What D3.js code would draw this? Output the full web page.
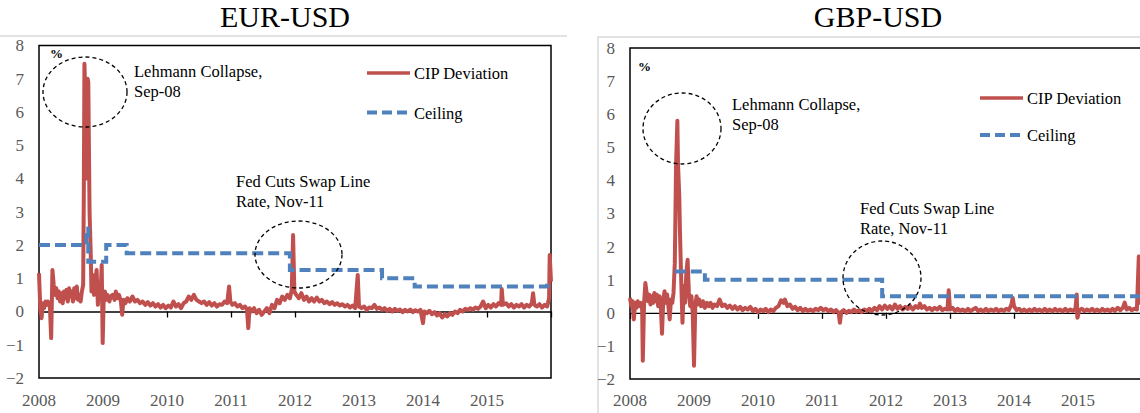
<!DOCTYPE html>
<html>
<head>
<meta charset="utf-8">
<script src="https://cdn.jsdelivr.net/npm/d3@7"></script>
<style>
  body { margin: 0; background: #fff; }
  svg text { font-family: "Liberation Serif", "Times New Roman", Times, serif; }
</style>
</head>
<body>
<svg id="chart" width="1140" height="413"></svg>
<script>
// Tick labels
const yearTicks = [2008, 2009, 2010, 2011, 2012, 2013, 2014, 2015];
const yTicks = [-2, -1, 0, 1, 2, 3, 4, 5, 6, 7, 8];

// EUR-USD CIP deviation, [year, %]
const eurCip = [
  [2008.00, 1.15], [2008.02, 0.1], [2008.04, -0.2], [2008.06, 0.25], [2008.08, 0.1], [2008.10, 0.3],
  [2008.12, 0.2], [2008.14, 0.3], [2008.17, 0.15], [2008.19, -0.8], [2008.20, 0.2], [2008.21, 1.25],
  [2008.23, 0.8], [2008.25, 0.5], [2008.27, 0.7], [2008.29, 0.4], [2008.31, 0.6], [2008.33, 0.3],
  [2008.35, 0.55], [2008.37, 0.25], [2008.39, 0.6], [2008.41, 0.4], [2008.43, 0.65], [2008.45, 0.3],
  [2008.47, 0.7], [2008.49, 0.45], [2008.51, 0.6], [2008.53, 0.3], [2008.55, 0.7], [2008.57, 0.4],
  [2008.59, 0.75], [2008.61, 0.35], [2008.63, 0.5], [2008.65, 0.3], [2008.67, 0.6], [2008.69, 0.8],
  [2008.70, 3.5], [2008.71, 7.45], [2008.73, 6.0], [2008.75, 4.0], [2008.76, 7.0], [2008.77, 6.9],
  [2008.79, 3.0], [2008.81, 1.6], [2008.82, 0.6], [2008.84, 1.1], [2008.86, 0.5], [2008.88, 0.9],
  [2008.90, 1.25], [2008.92, 0.2], [2008.94, 0.8], [2008.96, 0.4], [2008.98, 1.4], [2008.995, -0.95],
  [2009.01, 0.3], [2009.03, 0.6], [2009.05, 0.35], [2009.07, 0.5], [2009.10, 0.3], [2009.12, 0.45],
  [2009.15, 0.5], [2009.18, 0.35], [2009.20, 0.6], [2009.23, 0.4], [2009.25, 0.5], [2009.28, 0.3],
  [2009.30, -0.1], [2009.32, 0.35], [2009.35, 0.25], [2009.38, 0.4], [2009.42, 0.3], [2009.46, 0.45],
  [2009.50, 0.3], [2009.54, 0.35], [2009.58, 0.25], [2009.62, 0.3], [2009.66, 0.2], [2009.70, 0.28],
  [2009.74, 0.18], [2009.78, 0.25], [2009.82, 0.15], [2009.86, 0.22], [2009.90, 0.12], [2009.94, 0.2],
  [2009.98, 0.1], [2010.02, 0.18], [2010.06, 0.12], [2010.10, 0.3], [2010.14, 0.15], [2010.18, 0.22],
  [2010.22, 0.1], [2010.26, 0.25], [2010.30, 0.3], [2010.34, 0.45], [2010.38, 0.35], [2010.42, 0.5],
  [2010.46, 0.35], [2010.50, 0.3], [2010.54, 0.25], [2010.58, 0.3], [2010.62, 0.2], [2010.66, 0.28],
  [2010.70, 0.18], [2010.74, 0.25], [2010.78, 0.15], [2010.82, 0.22], [2010.86, 0.2], [2010.90, 0.3],
  [2010.94, 0.25], [2010.97, 0.75], [2010.99, 0.3], [2011.02, 0.2], [2011.06, 0.25], [2011.10, 0.15],
  [2011.14, 0.2], [2011.18, 0.1], [2011.22, 0.15], [2011.25, 0.05], [2011.27, -0.5], [2011.29, 0.1],
  [2011.32, 0.0], [2011.36, 0.1], [2011.40, -0.05], [2011.44, 0.05], [2011.48, -0.1], [2011.52, 0.0],
  [2011.56, 0.1], [2011.60, -0.05], [2011.64, 0.2], [2011.68, 0.1], [2011.72, 0.35], [2011.76, 0.25],
  [2011.80, 0.45], [2011.84, 0.35], [2011.88, 0.5], [2011.92, 0.4], [2011.95, 0.65], [2011.97, 2.3],
  [2011.99, 0.6], [2012.02, 0.5], [2012.06, 0.4], [2012.10, 0.55], [2012.14, 0.35], [2012.18, 0.45],
  [2012.22, 0.3], [2012.26, 0.4], [2012.30, 0.3], [2012.34, 0.42], [2012.38, 0.3], [2012.42, 0.35],
  [2012.46, 0.25], [2012.50, 0.3], [2012.54, 0.22], [2012.58, 0.28], [2012.62, 0.2], [2012.66, 0.25],
  [2012.70, 0.18], [2012.74, 0.22], [2012.78, 0.15], [2012.82, 0.2], [2012.86, 0.12], [2012.90, 0.18],
  [2012.94, 0.1], [2012.98, 1.1], [2013.00, 0.15], [2013.04, 0.1], [2013.08, 0.15], [2013.12, 0.05],
  [2013.16, 0.12], [2013.20, 0.1], [2013.24, 0.2], [2013.28, 0.08], [2013.32, 0.12], [2013.36, 0.05],
  [2013.40, 0.1], [2013.44, 0.02], [2013.48, 0.08], [2013.52, 0.0], [2013.56, 0.08], [2013.60, 0.02],
  [2013.64, 0.06], [2013.68, -0.02], [2013.72, 0.05], [2013.76, 0.0], [2013.80, 0.06], [2013.84, -0.02],
  [2013.88, 0.04], [2013.92, 0.0], [2013.96, 0.05], [2014.00, -0.35], [2014.02, 0.0], [2014.06, -0.05],
  [2014.10, 0.02], [2014.14, -0.08], [2014.18, -0.02], [2014.22, -0.12], [2014.26, -0.05], [2014.30, -0.18],
  [2014.34, -0.08], [2014.38, -0.15], [2014.42, -0.05], [2014.46, -0.1], [2014.50, 0.0], [2014.54, -0.05],
  [2014.58, 0.05], [2014.62, 0.0], [2014.66, 0.08], [2014.70, 0.05], [2014.74, 0.1], [2014.78, 0.05],
  [2014.82, 0.12], [2014.86, 0.08], [2014.90, 0.15], [2014.94, 0.3], [2014.98, 0.1], [2015.02, 0.2],
  [2015.06, 0.12], [2015.10, 0.22], [2015.14, 0.15], [2015.18, 0.25], [2015.22, 0.2], [2015.23, 0.68],
  [2015.25, 0.2], [2015.30, 0.25], [2015.34, 0.15], [2015.38, 0.22], [2015.42, 0.12], [2015.46, 0.2],
  [2015.50, 0.15], [2015.54, 0.22], [2015.58, 0.12], [2015.62, 0.2], [2015.66, 0.15], [2015.70, 0.25],
  [2015.72, 0.55], [2015.74, 0.2], [2015.78, 0.15], [2015.82, 0.22], [2015.86, 0.12], [2015.90, 0.2],
  [2015.94, 0.15], [2015.97, 0.4], [2015.98, 1.7], [2016.00, 0.9]
];

// EUR-USD ceiling, step changes [year, %]
const eurCeiling = [
  [2008.00, 2.0], [2008.74, 2.5], [2008.77, 1.5], [2009.05, 2.0], [2009.37, 1.75],
  [2011.92, 1.25], [2013.36, 1.0], [2013.87, 0.75], [2015.94, 0.85], [2016.00, 0.85]
];

// GBP-USD CIP deviation, [year, %]
const gbpCip = [
  [2008.00, 0.45], [2008.02, 0.2], [2008.04, 0.35], [2008.06, -0.2], [2008.08, 0.3], [2008.10, 0.15],
  [2008.12, 0.35], [2008.14, 0.2], [2008.17, 0.3], [2008.19, 0.1], [2008.20, -1.45], [2008.22, 0.3],
  [2008.24, 0.9], [2008.26, 0.6], [2008.28, 0.35], [2008.30, 0.55], [2008.32, 0.25], [2008.34, 0.5],
  [2008.36, 0.3], [2008.38, 0.6], [2008.40, 0.35], [2008.42, 0.55], [2008.44, 0.2], [2008.46, 0.5],
  [2008.48, 0.3], [2008.50, -0.63], [2008.52, 0.4], [2008.54, 0.65], [2008.56, 0.3], [2008.58, 0.55],
  [2008.60, 0.2], [2008.62, -0.2], [2008.64, 0.4], [2008.66, 0.3], [2008.68, 0.6], [2008.70, 1.5],
  [2008.72, 4.5], [2008.74, 5.8], [2008.75, 4.5], [2008.77, 3.5], [2008.78, 2.5], [2008.80, 1.0],
  [2008.82, -0.3], [2008.84, 0.8], [2008.86, 0.3], [2008.88, 1.2], [2008.90, 1.6], [2008.92, 0.6],
  [2008.94, 0.2], [2008.96, 0.5], [2008.98, 0.0], [2009.00, -1.6], [2009.02, 0.2], [2009.04, 0.5],
  [2009.06, 0.25], [2009.08, 0.4], [2009.11, 0.2], [2009.14, 0.35], [2009.17, 0.15], [2009.20, 0.3],
  [2009.23, 0.2], [2009.26, 0.3], [2009.29, 0.15], [2009.32, 0.25], [2009.36, 0.2], [2009.40, 0.4],
  [2009.44, 0.2], [2009.48, 0.25], [2009.52, 0.15], [2009.56, 0.22], [2009.60, 0.12], [2009.64, 0.2],
  [2009.68, 0.1], [2009.72, 0.18], [2009.76, 0.08], [2009.80, 0.15], [2009.84, 0.1], [2009.88, 0.18],
  [2009.92, 0.05], [2009.96, 0.12], [2010.00, 0.02], [2010.04, 0.1], [2010.08, 0.05], [2010.12, 0.12],
  [2010.16, 0.02], [2010.20, 0.1], [2010.24, 0.05], [2010.28, 0.15], [2010.32, 0.2], [2010.36, 0.38],
  [2010.40, 0.3], [2010.42, 0.4], [2010.46, 0.2], [2010.50, 0.25], [2010.54, 0.12], [2010.58, 0.18],
  [2010.62, 0.08], [2010.66, 0.15], [2010.70, 0.05], [2010.74, 0.12], [2010.78, 0.06], [2010.82, 0.1],
  [2010.86, 0.05], [2010.90, 0.12], [2010.94, 0.08], [2010.98, 0.15], [2011.02, 0.08], [2011.06, 0.12],
  [2011.10, 0.05], [2011.14, 0.1], [2011.18, 0.02], [2011.22, 0.08], [2011.26, 0.0], [2011.28, -0.3],
  [2011.30, 0.02], [2011.34, 0.08], [2011.38, 0.0], [2011.42, 0.06], [2011.46, 0.02], [2011.50, 0.1],
  [2011.54, 0.03], [2011.58, 0.08], [2011.62, 0.02], [2011.66, 0.1], [2011.70, 0.05], [2011.74, 0.12],
  [2011.78, 0.05], [2011.82, 0.15], [2011.86, 0.08], [2011.90, 0.2], [2011.94, 0.1], [2011.98, 0.22],
  [2012.02, 0.12], [2012.06, 0.2], [2012.10, 0.1], [2012.14, 0.25], [2012.18, 0.12], [2012.22, 0.2],
  [2012.26, 0.1], [2012.30, 0.18], [2012.34, 0.12], [2012.38, 0.2], [2012.42, 0.1], [2012.46, 0.2],
  [2012.50, 0.15], [2012.53, 0.28], [2012.56, 0.15], [2012.60, 0.2], [2012.64, 0.1], [2012.68, 0.15],
  [2012.72, 0.08], [2012.76, 0.15], [2012.80, 0.1], [2012.84, 0.18], [2012.88, 0.08], [2012.92, 0.12],
  [2012.96, 0.1], [2012.98, 0.68], [2013.00, 0.1], [2013.04, 0.15], [2013.08, 0.05], [2013.12, 0.12],
  [2013.16, 0.06], [2013.20, 0.1], [2013.24, 0.04], [2013.28, 0.12], [2013.32, 0.05], [2013.36, 0.1],
  [2013.40, 0.15], [2013.44, 0.05], [2013.48, 0.1], [2013.52, 0.04], [2013.56, 0.12], [2013.60, 0.05],
  [2013.64, 0.1], [2013.68, 0.06], [2013.72, 0.12], [2013.76, 0.05], [2013.80, 0.1], [2013.84, 0.06],
  [2013.88, 0.12], [2013.92, 0.08], [2013.96, 0.25], [2013.98, 0.45], [2014.00, 0.2], [2014.04, 0.08],
  [2014.08, 0.12], [2014.12, 0.05], [2014.16, 0.1], [2014.20, 0.04], [2014.24, 0.1], [2014.28, 0.05],
  [2014.32, 0.12], [2014.36, 0.06], [2014.40, 0.1], [2014.44, 0.04], [2014.48, 0.12], [2014.52, 0.05],
  [2014.56, 0.1], [2014.60, 0.04], [2014.64, 0.12], [2014.68, 0.06], [2014.72, 0.1], [2014.76, 0.04],
  [2014.80, 0.12], [2014.84, 0.05], [2014.88, 0.1], [2014.92, 0.06], [2014.96, 0.12], [2014.98, 0.55],
  [2014.99, -0.15], [2015.02, 0.08], [2015.06, 0.12], [2015.10, 0.05], [2015.14, 0.1], [2015.18, 0.06],
  [2015.22, 0.12], [2015.26, 0.05], [2015.30, 0.1], [2015.34, 0.04], [2015.38, 0.12], [2015.42, 0.06],
  [2015.46, 0.1], [2015.50, 0.05], [2015.54, 0.12], [2015.58, 0.06], [2015.62, 0.15], [2015.66, 0.08],
  [2015.70, 0.15], [2015.73, 0.31], [2015.76, 0.1], [2015.80, 0.15], [2015.84, 0.08], [2015.88, 0.12],
  [2015.92, 0.1], [2015.95, 1.7], [2015.97, 0.3], [2016.00, 0.3]
];

// GBP-USD ceiling
const gbpCeiling = [
  [2008.70, 1.25], [2009.17, 1.0], [2011.94, 0.5], [2016.00, 0.5]
];

const svg = d3.select("#chart");
const red = "#c0504d", blue = "#4f81bd", grey = "#595959";
const serif = "'Liberation Serif', 'Times New Roman', Times, serif";

function drawPanel(p) {
  const x = d3.scaleLinear().domain([2008, 2016]).range([p.left, p.left + 512]);
  const y = d3.scaleLinear().domain([-2, 8]).range([p.bottom, p.top]);
  const g = svg.append("g").attr("font-family", serif);

  // outer frame (light grey)
  g.append("path")
    .attr("d", p.frame)
    .attr("fill", "none")
    .attr("stroke", "#d9d9d9")
    .attr("stroke-width", 1.5);

  // title
  g.append("text")
    .attr("x", p.titleX).attr("y", 27)
    .attr("text-anchor", "middle")
    .style("font-size", "30px")
    .text(p.title);

  // plot box
  g.append("rect")
    .attr("x", x(2008)).attr("y", y(8))
    .attr("width", x(2016) - x(2008)).attr("height", y(-2) - y(8))
    .attr("fill", "none").attr("stroke", "#000").attr("stroke-width", 1.5);

  // y axis labels
  const yAxis = d3.axisLeft(y).tickValues(yTicks).tickSize(0).tickPadding(15);
  g.append("g")
    .attr("transform", "translate(" + x(2008) + ",0)")
    .call(yAxis)
    .attr("font-family", serif)
    .call(a => a.select(".domain").remove())
    .selectAll("text")
    .attr("fill", grey)
    .style("font-size", "17px");

  // zero line with downward ticks
  const xAxis = d3.axisBottom(x).tickValues(d3.range(2008, 2017)).tickSize(6).tickSizeOuter(0).tickFormat("");
  g.append("g")
    .attr("transform", "translate(0," + y(0) + ")")
    .call(xAxis)
    .call(a => a.select(".domain").attr("stroke-width", 1.3))
    .selectAll("line").attr("stroke-width", 1.3);

  // year labels at the bottom
  g.selectAll(".yr")
    .data(yearTicks)
    .enter().append("text")
    .attr("x", d => x(d))
    .attr("y", 406)
    .attr("text-anchor", "middle")
    .attr("fill", grey)
    .style("font-size", "17px")
    .text(d => d);

  // series
  const line = d3.line().x(d => x(d[0])).y(d => y(d[1]));
  g.append("path")
    .datum(p.cip)
    .attr("d", line)
    .attr("fill", "none")
    .attr("stroke", red)
    .attr("stroke-width", 4)
    .attr("stroke-linejoin", "round");

  g.append("path")
    .datum(p.ceiling)
    .attr("d", line.curve(d3.curveStepAfter))
    .attr("fill", "none")
    .attr("stroke", blue)
    .attr("stroke-width", 4)
    .attr("stroke-dasharray", "11,5");

  // "%" label
  g.append("text")
    .attr("x", p.pct[0]).attr("y", p.pct[1])
    .style("font-size", "13px").style("font-weight", "bold")
    .text("%");

  // legend
  const lg = g.append("g");
  lg.append("line")
    .attr("x1", p.legend[0]).attr("x2", p.legend[0] + 43)
    .attr("y1", p.legend[1]).attr("y2", p.legend[1])
    .attr("stroke", red).attr("stroke-width", 3.5);
  lg.append("text")
    .attr("x", p.legend[0] + 47).attr("y", p.legend[1] + 6)
    .style("font-size", "16.5px").text("CIP Deviation");
  lg.append("line")
    .attr("x1", p.legend[0]).attr("x2", p.legend[0] + 43)
    .attr("y1", p.legend[1] + p.legendGap).attr("y2", p.legend[1] + p.legendGap)
    .attr("stroke", blue).attr("stroke-width", 4).attr("stroke-dasharray", "10,5");
  lg.append("text")
    .attr("x", p.legend[0] + 47).attr("y", p.legend[1] + p.legendGap + 6)
    .style("font-size", "16.5px").text("Ceiling");

  // annotations
  p.notes.forEach(n => {
    g.append("ellipse")
      .attr("cx", n.cx).attr("cy", n.cy).attr("rx", n.rx).attr("ry", n.ry)
      .attr("fill", "none").attr("stroke", "#000")
      .attr("stroke-width", 1.3).attr("stroke-dasharray", "4,3");
    const t = g.append("text")
      .attr("x", n.tx).attr("y", n.ty)
      .style("font-size", "16.5px");
    n.lines.forEach((s, i) => {
      t.append("tspan").attr("x", n.tx).attr("dy", i ? 20 : 0).text(s);
    });
  });
}

drawPanel({
  title: "EUR-USD", titleX: 285,
  left: 39, top: 45.5, bottom: 378,
  frame: "M0,36H567",
  cip: eurCip, ceiling: eurCeiling,
  pct: [50, 58],
  legend: [367, 73], legendGap: 39.5,
  notes: [
    { cx: 85, cy: 92, rx: 42, ry: 35, tx: 134, ty: 77, lines: ["Lehmann Collapse,", "Sep-08"] },
    { cx: 298.5, cy: 254.5, rx: 43.5, ry: 33.5, tx: 236, ty: 187, lines: ["Fed Cuts Swap Line", "Rate, Nov-11"] }
  ]
});

drawPanel({
  title: "GBP-USD", titleX: 878,
  left: 630, top: 48, bottom: 379,
  frame: "M598,413V37H1140",
  cip: gbpCip, ceiling: gbpCeiling,
  pct: [638, 71],
  legend: [980, 98], legendGap: 37,
  notes: [
    { cx: 682, cy: 128.5, rx: 39, ry: 35.5, tx: 732, ty: 110, lines: ["Lehmann Collapse,", "Sep-08"] },
    { cx: 882, cy: 278, rx: 39, ry: 37, tx: 860, ty: 214, lines: ["Fed Cuts Swap Line", "Rate, Nov-11"] }
  ]
});
</script>
</body>
</html>
